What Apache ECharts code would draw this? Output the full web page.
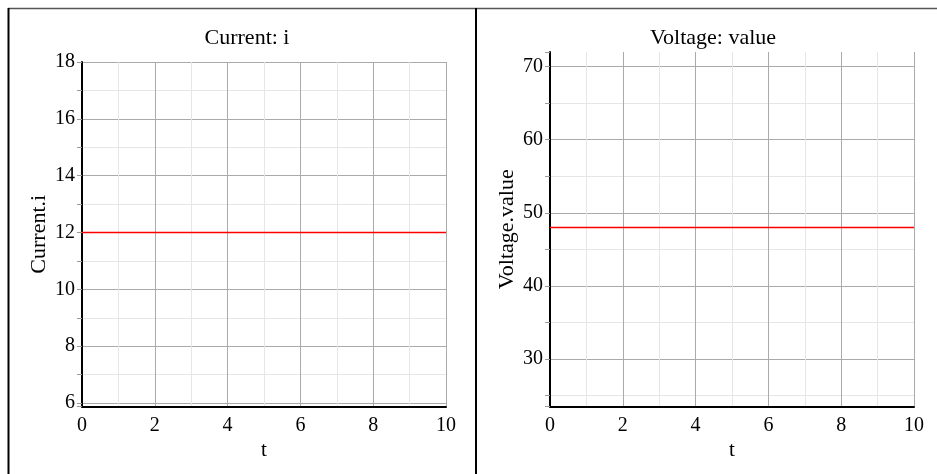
<!DOCTYPE html>
<html>
<head>
<meta charset="utf-8">
<script src="https://cdn.jsdelivr.net/npm/echarts@6/dist/echarts.min.js"></script>
<style>
html,body{margin:0;padding:0;background:#fff;}
#c{width:937px;height:474px;}
</style>
</head>
<body>
<div id="c"></div>
<script>
// ---- data ----
const tValues = [0, 1, 2, 3, 4, 5, 6, 7, 8, 9, 10];
const currentValues = [12, 12, 12, 12, 12, 12, 12, 12, 12, 12, 12];
const voltageValues = [48, 48, 48, 48, 48, 48, 48, 48, 48, 48, 48];
const xTickLabels = [0, 2, 4, 6, 8, 10];
const currentTickLabels = [6, 8, 10, 12, 14, 16, 18];
const voltageTickLabels = [30, 40, 50, 60, 70];
const titles = ['Current: i', 'Voltage: value'];
const yNames = ['Current.i', 'Voltage.value'];
const xName = 't';

const FONT = '"Liberation Serif", "DejaVu Serif", serif';
const chart = echarts.init(document.getElementById('c'), null, {renderer: 'canvas'});

function fmt(list) {
  return function (v) {
    for (const t of list) if (Math.abs(v - t) < 1e-6) return String(t);
    return '';
  };
}

function xAxis(gi) {
  return {
    type: 'value', gridIndex: gi, min: 0, max: 10, interval: 2,
    name: xName, nameLocation: 'middle', nameGap: 28,
    nameTextStyle: {fontFamily: FONT, fontSize: 21, color: '#000'},
    axisLine: {show: true, onZero: false, lineStyle: {color: '#000', width: 2}},
    axisTick: {show: false},
    axisLabel: {fontFamily: FONT, fontSize: 20, color: '#000', margin: 9, formatter: fmt(xTickLabels)},
    splitLine: {show: true, lineStyle: {color: '#aaaaaa', width: 1}},
    minorTick: {show: false, splitNumber: 2},
    minorSplitLine: {show: true, lineStyle: {color: '#e6e6e6', width: 1}}
  };
}

function yAxis(gi, min, max, labels) {
  return {
    type: 'value', gridIndex: gi, min: min, max: max, splitNumber: 5,
    name: yNames[gi], nameLocation: 'middle', nameGap: 32,
    nameTextStyle: {fontFamily: FONT, fontSize: 22, color: '#000'},
    axisLine: {show: true, onZero: false, lineStyle: {color: '#000', width: 2}},
    axisTick: {show: true, length: 5, lineStyle: {color: '#999', width: 1}},
    minorTick: {show: true, splitNumber: 2, length: 5, lineStyle: {color: '#999', width: 1}},
    axisLabel: {fontFamily: FONT, fontSize: 20, color: '#000', margin: 7, formatter: fmt(labels)},
    splitLine: {show: true, showMinLine: false, showMaxLine: gi === 0, lineStyle: {color: '#aaaaaa', width: 1}},
    minorSplitLine: {show: true, lineStyle: {color: '#e6e6e6', width: 1}}
  };
}

const option = {
  backgroundColor: '#fff',
  animation: false,
  title: [
    {text: titles[0], left: 242, top: 22, textAlign: 'center',
     textStyle: {fontFamily: FONT, fontSize: 22, fontWeight: 'normal', color: '#000'}},
    {text: titles[1], left: 708, top: 22, textAlign: 'center',
     textStyle: {fontFamily: FONT, fontSize: 22, fontWeight: 'normal', color: '#000'}}
  ],
  grid: [
    {left: 82, right: 491, top: 62, bottom: 67.5, containLabel: false},
    {left: 550, right: 23, top: 52, bottom: 67.5, containLabel: false}
  ],
  xAxis: [xAxis(0), xAxis(1)],
  yAxis: [yAxis(0, 5.88, 18, currentTickLabels), yAxis(1, 23.5, 72, voltageTickLabels)],
  series: [
    {type: 'line', xAxisIndex: 0, yAxisIndex: 0, showSymbol: false,
     lineStyle: {color: '#ff0000', width: 1.5},
     data: tValues.map((t, i) => [t, currentValues[i]])},
    {type: 'line', xAxisIndex: 1, yAxisIndex: 1, showSymbol: false,
     lineStyle: {color: '#ff0000', width: 1.5},
     data: tValues.map((t, i) => [t, voltageValues[i]])}
  ],
  graphic: [
    {type: 'line', shape: {x1: 8, y1: 8.5, x2: 937, y2: 8.5}, style: {stroke: '#555', lineWidth: 1.5}, silent: true},
    {type: 'line', shape: {x1: 8.5, y1: 8, x2: 8.5, y2: 474}, style: {stroke: '#000', lineWidth: 2}, silent: true},
    {type: 'line', shape: {x1: 476, y1: 8, x2: 476, y2: 474}, style: {stroke: '#000', lineWidth: 2}, silent: true}
  ]
};
chart.setOption(option);
</script>
</body>
</html>
